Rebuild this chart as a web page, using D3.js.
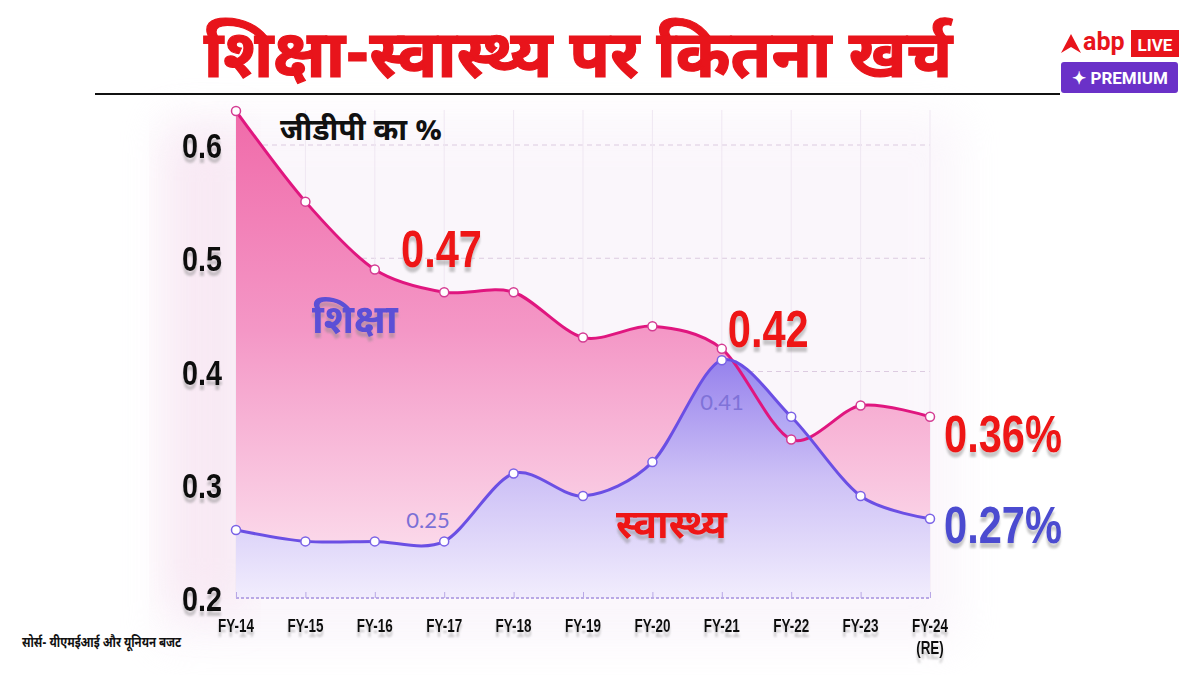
<!DOCTYPE html>
<html>
<head>
<meta charset="utf-8">
<script src="https://cdn.jsdelivr.net/npm/d3@7"></script>
<style>
  body { margin: 0; background: #fff; }
  svg { display: block; }
  .cond { font-family: "Liberation Sans", Arial, sans-serif; font-weight: bold; }
  .hi { font-family: "Noto Sans Devanagari", "Noto Sans", "Lohit Devanagari", "FreeSans", sans-serif; font-weight: bold; }
</style>
</head>
<body>
<div id="chart"></div>
<script>
// values, % of GDP
var years     = ['FY-14','FY-15','FY-16','FY-17','FY-18','FY-19','FY-20','FY-21','FY-22','FY-23','FY-24'];
var education = [0.63, 0.55, 0.49, 0.47, 0.47, 0.43, 0.44, 0.42, 0.34, 0.37, 0.36];
var health    = [0.26, 0.25, 0.25, 0.25, 0.31, 0.29, 0.32, 0.41, 0.36, 0.29, 0.27];
var yTicks    = [0.2, 0.3, 0.4, 0.5, 0.6];

var width = 1200, height = 675;

var x = d3.scalePoint().domain(years).range([236, 930]);
var y = d3.scaleLinear().domain([0.2, 0.6]).range([598, 145]);

var svg = d3.select('#chart').append('svg')
    .attr('width', width)
    .attr('height', height);

var defs = svg.append('defs');

var blur = defs.append('filter').attr('id', 'glow')
    .attr('x', '-20%').attr('y', '-20%').attr('width', '140%').attr('height', '140%');
blur.append('feGaussianBlur').attr('stdDeviation', 22);

var shadow = defs.append('filter').attr('id', 'shadow')
    .attr('x', '-10%').attr('y', '-10%').attr('width', '120%').attr('height', '150%');
shadow.append('feDropShadow')
    .attr('dx', 0).attr('dy', 5).attr('stdDeviation', 1.2)
    .attr('flood-color', '#888').attr('flood-opacity', 0.45);

var pinkGrad = defs.append('linearGradient').attr('id', 'pinkGrad')
    .attr('gradientUnits', 'userSpaceOnUse')
    .attr('x1', 0).attr('x2', 0).attr('y1', 110).attr('y2', 600);
pinkGrad.append('stop').attr('offset', 0).attr('stop-color', '#f06aa9');
pinkGrad.append('stop').attr('offset', 0.45).attr('stop-color', '#f497c6');
pinkGrad.append('stop').attr('offset', 1).attr('stop-color', '#fde9f3');

var blueGrad = defs.append('linearGradient').attr('id', 'blueGrad')
    .attr('gradientUnits', 'userSpaceOnUse')
    .attr('x1', 0).attr('x2', 0).attr('y1', 355).attr('y2', 600);
blueGrad.append('stop').attr('offset', 0).attr('stop-color', '#8b7cef');
blueGrad.append('stop').attr('offset', 0.5).attr('stop-color', '#c9c0f8');
blueGrad.append('stop').attr('offset', 1).attr('stop-color', '#f1eefe');

// soft glow behind the plot, stronger on the left and bottom
svg.append('rect')
    .attr('x', 160).attr('y', 115).attr('width', 800).attr('height', 530)
    .attr('fill', '#f3e6f5').attr('opacity', 0.35)
    .attr('filter', 'url(#glow)');
svg.append('rect')
    .attr('x', 165).attr('y', 130).attr('width', 80).attr('height', 480)
    .attr('fill', '#f6dcec').attr('opacity', 0.5)
    .attr('filter', 'url(#glow)');

// condensed bold text: squeeze horizontally
function cond(txt, px, py, size, color, anchor, sx) {
    return svg.append('text')
        .attr('class', 'cond')
        .attr('transform', 'translate(' + px + ',' + py + ') scale(' + (sx || 0.78) + ',1)')
        .attr('text-anchor', anchor || 'start')
        .attr('font-size', size)
        .attr('fill', color)
        .attr('filter', 'url(#shadow)')
        .text(txt);
}

// title
svg.append('text')
    .attr('class', 'hi')
    .attr('x', 578).attr('y', 77)
    .attr('text-anchor', 'middle')
    .attr('font-size', 66)
    .attr('fill', '#e8141b')
    .attr('stroke', '#e8141b').attr('stroke-width', 1.2)
    .text('शिक्षा-स्वास्थ्य पर कितना खर्च');

svg.append('line')
    .attr('x1', 95).attr('x2', 1060).attr('y1', 94).attr('y2', 94)
    .attr('stroke', '#111').attr('stroke-width', 2);

// logo
var logo = svg.append('g');
logo.append('path')
    .attr('d', 'M1061,53 L1071,34 L1081,53 L1071,47 Z')
    .attr('fill', '#e8141b');
logo.append('text')
    .attr('x', 1083).attr('y', 50)
    .attr('font-family', 'Roboto, sans-serif').attr('font-weight', 'bold')
    .attr('font-size', 25).attr('fill', '#e8141b')
    .text('abp');
logo.append('rect')
    .attr('x', 1131).attr('y', 30).attr('width', 48).attr('height', 27)
    .attr('fill', '#e8141b');
logo.append('text')
    .attr('x', 1155).attr('y', 51)
    .attr('text-anchor', 'middle')
    .attr('font-family', 'Roboto, sans-serif').attr('font-weight', 'bold')
    .attr('font-size', 17).attr('fill', '#fff')
    .text('LIVE');
logo.append('rect')
    .attr('x', 1061).attr('y', 62).attr('width', 117).attr('height', 31).attr('rx', 3)
    .attr('fill', '#6a31c8');
logo.append('text')
    .attr('x', 1120).attr('y', 84)
    .attr('text-anchor', 'middle')
    .attr('font-family', 'Roboto, sans-serif').attr('font-weight', 'bold')
    .attr('font-size', 17).attr('fill', '#fff')
    .text('✦ PREMIUM');

// grid
svg.append('g')
    .selectAll('line').data(yTicks.slice(1)).enter().append('line')
    .attr('x1', 236).attr('x2', 930)
    .attr('y1', function(d) { return y(d); })
    .attr('y2', function(d) { return y(d); })
    .attr('stroke', '#dccbe0')
    .attr('stroke-dasharray', '5,4');

svg.append('g')
    .selectAll('line').data(years).enter().append('line')
    .attr('x1', function(d) { return x(d); })
    .attr('x2', function(d) { return x(d); })
    .attr('y1', 110).attr('y2', 598)
    .attr('stroke', '#efe7f2')
    .attr('stroke-width', 1);

var curve = d3.curveCardinal.tension(0.1);

var area = d3.area()
    .x(function(d, i) { return x(years[i]); })
    .y0(y(0.2))
    .y1(function(d) { return y(d); })
    .curve(curve);

var line = d3.line()
    .x(function(d, i) { return x(years[i]); })
    .y(function(d) { return y(d); })
    .curve(curve);

svg.append('path').datum(education)
    .attr('d', area)
    .attr('fill', 'url(#pinkGrad)');

svg.append('path').datum(health)
    .attr('d', area)
    .attr('fill', 'url(#blueGrad)')
    .attr('opacity', 0.92);

// bottom axis
var xAxis = d3.axisBottom(x).tickSize(6).tickFormat('');
var axisG = svg.append('g')
    .attr('transform', 'translate(0,' + y(0.2) + ')')
    .call(xAxis);
axisG.select('.domain')
    .attr('d', 'M236,0H930')
    .attr('stroke', '#b9a8e6')
    .attr('stroke-dasharray', '3,2')
    .attr('stroke-width', 2);
axisG.selectAll('.tick line')
    .attr('y1', -6).attr('y2', 0)
    .attr('stroke', '#b9a8e6');

svg.append('path').datum(education)
    .attr('d', line)
    .attr('fill', 'none')
    .attr('stroke', '#e0167f')
    .attr('stroke-width', 3);

svg.append('path').datum(health)
    .attr('d', line)
    .attr('fill', 'none')
    .attr('stroke', '#6b4fe4')
    .attr('stroke-width', 3);

function dots(data, color) {
    svg.append('g')
        .selectAll('circle').data(data).enter().append('circle')
        .attr('cx', function(d, i) { return x(years[i]); })
        .attr('cy', function(d) { return y(d); })
        .attr('r', 4.5)
        .attr('fill', '#fff')
        .attr('stroke', color)
        .attr('stroke-width', 1.5);
}
dots(education, '#d43c93');
dots(health, '#7a62e6');

// y tick labels
yTicks.forEach(function(d) {
    cond(d3.format('.1f')(d), 222, y(d) + 13, 36, '#111', 'end', 0.8);
});

// x tick labels
years.forEach(function(d) {
    cond(d, x(d), 632, 18, '#111', 'middle', 0.75);
});
cond('(RE)', x('FY-24'), 654, 18, '#111', 'middle', 0.75);

// annotations
cond('0.47', 401, 267, 52, '#ee1313', 'start', 0.8);
cond('0.42', x('FY-21') + 6, 347, 52, '#ee1313', 'start', 0.8);
cond('0.36%', x('FY-24') + 14, 452, 52, '#ee1313', 'start', 0.8);
cond('0.27%', x('FY-24') + 14, 543, 52, '#4b4bd0', 'start', 0.8);

svg.append('text')
    .attr('class', 'hi')
    .attr('x', 280).attr('y', 140)
    .attr('font-size', 30)
    .attr('fill', '#111')
    .text('जीडीपी का %');

svg.append('text')
    .attr('class', 'hi')
    .attr('x', 312).attr('y', 333)
    .attr('font-size', 40)
    .attr('fill', '#5b4fd6')
    .attr('filter', 'url(#shadow)')
    .text('शिक्षा');

svg.append('text')
    .attr('class', 'hi')
    .attr('x', 616).attr('y', 538)
    .attr('font-size', 40)
    .attr('fill', '#ee1313')
    .attr('filter', 'url(#shadow)')
    .text('स्वास्थ्य');

svg.append('text')
    .attr('x', 428).attr('y', 528)
    .attr('text-anchor', 'middle')
    .attr('font-family', 'Lato, "Open Sans", sans-serif')
    .attr('font-size', 22)
    .attr('fill', '#7b70d6')
    .text('0.25');

svg.append('text')
    .attr('x', 722).attr('y', 410)
    .attr('text-anchor', 'middle')
    .attr('font-family', 'Lato, "Open Sans", sans-serif')
    .attr('font-size', 22)
    .attr('fill', '#7f72d8')
    .text('0.41');

svg.append('text')
    .attr('class', 'hi')
    .attr('transform', 'translate(22,647) scale(0.82,1)')
    .attr('font-size', 14)
    .attr('fill', '#111')
    .text('सोर्स- यीएमईआई और यूनियन बजट');
</script>
</body>
</html>
